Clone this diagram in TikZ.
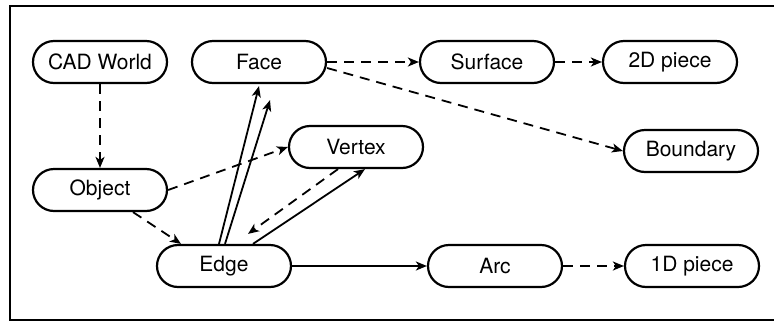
\documentclass[tikz,border=0pt]{standalone}
\usepackage{fontspec}
\setmainfont{TeX Gyre Heros}
\usetikzlibrary{arrows.meta}

\begin{document}
\begin{tikzpicture}[x=1pt,y=-1pt,>={Stealth[length=11pt,width=9pt,inset=3pt]},line width=1.8pt,
    cad node/.style={draw,line width=2.2pt,rounded corners=21pt,minimum width=134pt,minimum height=42pt,inner sep=0pt,font=\fontsize{21}{24}\selectfont},
    link/.style={->,dash pattern=on 10pt off 7pt},
    owns/.style={->}]

            \useasboundingbox (0,0) rectangle (774,322);
            \draw[line width=2pt] (780,6) -- (10,6) -- (10,320) -- (780,320);

            \node[cad node] (world) at (100,62) {CAD World};
            \node[cad node] (face) at (259,62) {Face};
            \node[cad node] (surface) at (487,62) {Surface};
            \node[cad node] (piece2) at (670,62) {2D piece};
            \node[cad node] (vertex) at (356,147) {Vertex};
            \node[cad node] (boundary) at (691,151) {Boundary};
            \node[cad node] (object) at (100,190) {Object};
            \node[cad node] (edge) at (224,266) {Edge};
            \node[cad node] (arc) at (495,266) {Arc};
            \node[cad node] (piece1) at (692,266) {1D piece};

            \draw[link] (world) to (object);
            \draw[link] (object.east) to (vertex.west);
            \draw[link] ([xshift=33pt]object.south) to ([xshift=-43pt]edge.north);
            \draw[link] (face) to (surface);
            \draw[link] (surface) to (piece2);
            \draw[link] ([yshift=-6pt]face.east) to (boundary.west);
            \draw[link] ([xshift=-18pt]vertex.south) to ([shift={(24pt,10pt)}]edge.north);
            \draw[link] (arc) to (piece1);

            \draw[owns] ([xshift=-5pt]edge.north) to ([yshift=-2pt]face.south);
            \draw[owns] ([xshift=1pt]edge.north) to ([shift={(11pt,-16pt)}]face.south);
            \draw[owns] ([xshift=29pt]edge.north) to ([xshift=9pt]vertex.south);
            \draw[owns] (edge) to (arc);
            % \draw[owns] (edge) to (object);

            ;
        \end{tikzpicture}
\end{document}
